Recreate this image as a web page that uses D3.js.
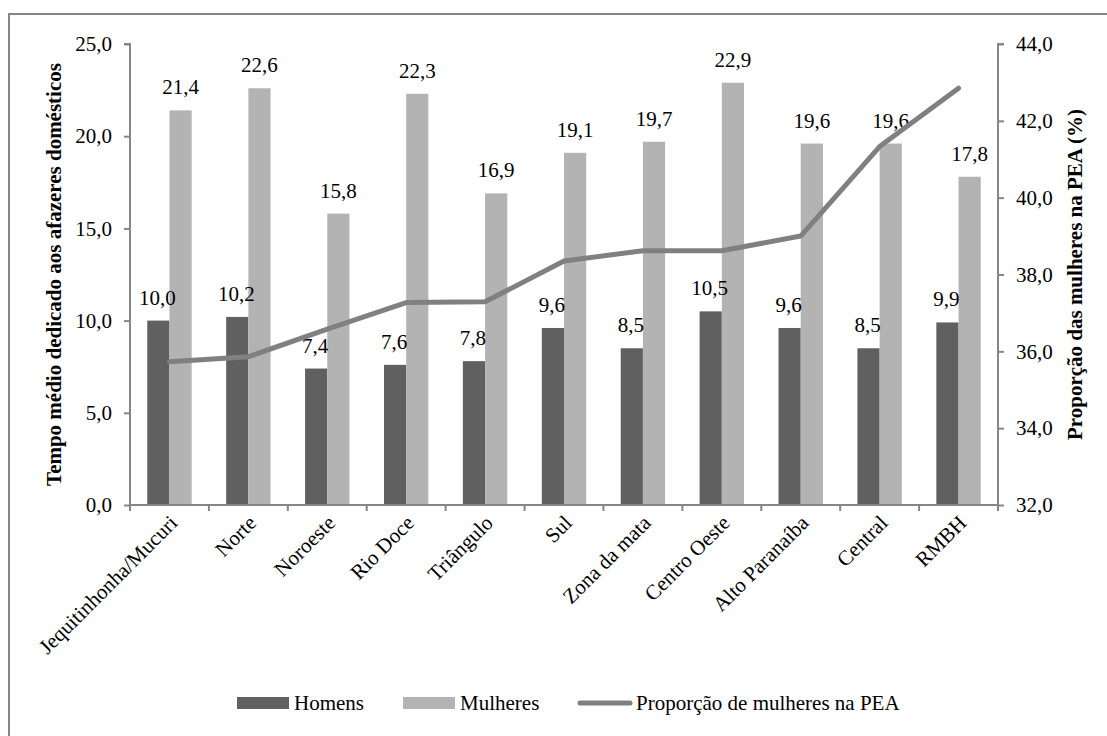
<!DOCTYPE html>
<html>
<head>
<meta charset="utf-8">
<script src="https://cdn.jsdelivr.net/npm/d3@7/dist/d3.min.js"></script>
</head>
<body style="margin:0;background:#fff">
<svg id="chart" width="1107" height="736" style="display:block"></svg>
<script>
// Regiões de Minas Gerais
const categories = ["Jequitinhonha/Mucuri", "Norte", "Noroeste", "Rio Doce", "Triângulo",
  "Sul", "Zona da mata", "Centro Oeste", "Alto Paranaíba", "Central", "RMBH"];
// Horas semanais dedicadas aos afazeres domésticos
const homens = [10.0, 10.2, 7.4, 7.6, 7.8, 9.6, 8.5, 10.5, 9.6, 8.5, 9.9];
const mulheres = [21.4, 22.6, 15.8, 22.3, 16.9, 19.1, 19.7, 22.9, 19.6, 19.6, 17.8];
// Proporção de mulheres na PEA (%)
const proporcao = [35.73, 35.86, 36.58, 37.27, 37.29, 38.35, 38.62, 38.62, 39.0, 41.33, 42.85];

const leftTicks = [0, 5, 10, 15, 20, 25];
const rightTicks = [32, 34, 36, 38, 40, 42, 44];
const seriesNames = ["Homens", "Mulheres", "Proporção de mulheres na PEA"];

const colDark = "#606060", colLight = "#b3b3b3", colLine = "#808080", colAxis = "#868686";
const FONT = "'Liberation Serif', 'Times New Roman', serif";
const FS = 21;
const fmt = v => d3.format(".1f")(v).replace(".", ",");

const svg = d3.select("#chart");
const plotLeft = 130, plotRight = 998, plotTop = 44, plotBottom = 505;

// Moldura do gráfico
svg.append("rect").attr("x", 9).attr("y", 14).attr("width", 1110).attr("height", 740)
  .attr("fill", "none").attr("stroke", colAxis).attr("stroke-width", 2);

const x = d3.scaleBand().domain(categories).range([plotLeft, plotRight]);
const inner = d3.scaleBand().domain(["h", "m"]).range([0, 44.4]);
const yL = d3.scaleLinear().domain([0, 25]).range([plotBottom, plotTop]);
const yR = d3.scaleLinear().domain([32, 44]).range([plotBottom, plotTop]);

const groupOffset = d => x(d) + x.bandwidth() / 2 - 22.2;

// Barras
const g = svg.append("g");
g.selectAll("rect.h").data(categories).join("rect")
  .attr("class", "h")
  .attr("x", (d) => groupOffset(d) + inner("h"))
  .attr("y", (d, i) => yL(homens[i]))
  .attr("width", inner.bandwidth())
  .attr("height", (d, i) => plotBottom - yL(homens[i]))
  .attr("fill", colDark);
g.selectAll("rect.m").data(categories).join("rect")
  .attr("class", "m")
  .attr("x", (d) => groupOffset(d) + inner("m"))
  .attr("y", (d, i) => yL(mulheres[i]))
  .attr("width", inner.bandwidth())
  .attr("height", (d, i) => plotBottom - yL(mulheres[i]))
  .attr("fill", colLight);

// Rótulos de valores
g.selectAll("text.h").data(categories).join("text")
  .attr("class", "h")
  .attr("x", d => groupOffset(d) + inner("h") + inner.bandwidth() / 2 - 1)
  .attr("y", (d, i) => yL(homens[i]) - 16)
  .attr("text-anchor", "middle")
  .text((d, i) => fmt(homens[i]));
g.selectAll("text.m").data(categories).join("text")
  .attr("class", "m")
  .attr("x", d => groupOffset(d) + inner("m") + inner.bandwidth() / 2)
  .attr("y", (d, i) => yL(mulheres[i]) - 16)
  .attr("text-anchor", "middle")
  .text((d, i) => fmt(mulheres[i]));

// Linha da proporção
const line = d3.line()
  .x(d => x(d.c) + x.bandwidth() / 2)
  .y(d => yR(d.v));
svg.append("path")
  .datum(categories.map((c, i) => ({ c, v: proporcao[i] })))
  .attr("d", line).attr("fill", "none").attr("stroke", colLine)
  .attr("stroke-width", 5).attr("stroke-linejoin", "round").attr("stroke-linecap", "round");

// Eixos
const axisL = svg.append("g").attr("transform", `translate(${plotLeft},0)`)
  .call(d3.axisLeft(yL).tickValues(leftTicks).tickFormat(fmt).tickSize(6).tickPadding(12));
const axisR = svg.append("g").attr("transform", `translate(${plotRight},0)`)
  .call(d3.axisRight(yR).tickValues(rightTicks).tickFormat(fmt).tickSize(6).tickPadding(12));
const axisB = svg.append("g").attr("transform", `translate(0,${plotBottom})`);
axisB.append("line").attr("x1", plotLeft).attr("x2", plotRight).attr("stroke", colAxis).attr("stroke-width", 2);
axisB.selectAll("line.tk").data(d3.range(categories.length + 1)).join("line")
  .attr("class", "tk")
  .attr("x1", i => plotLeft + i * x.step()).attr("x2", i => plotLeft + i * x.step())
  .attr("y1", 0).attr("y2", 6).attr("stroke", colAxis).attr("stroke-width", 2);

[axisL, axisR].forEach(a => {
  a.attr("font-family", FONT).attr("font-size", FS);
  a.select(".domain").attr("stroke", colAxis).attr("stroke-width", 2)
    .attr("d", a === axisL ? `M-6,${plotTop}H0V${plotBottom}` : `M6,${plotTop}H0V${plotBottom}`);
  a.selectAll(".tick line").attr("stroke", colAxis).attr("stroke-width", 2);
});

// Rótulos das categorias
axisB.selectAll("text.cat").data(categories).join("text")
  .attr("class", "cat")
  .attr("transform", d => `translate(${x(d) + x.bandwidth() / 2 + 4},${14}) rotate(-45)`)
  .attr("text-anchor", "end").attr("dy", "0.35em")
  .text(d => d);

// Títulos dos eixos
svg.append("text")
  .attr("transform", `translate(61,${(plotTop + plotBottom) / 2}) rotate(-90)`)
  .attr("text-anchor", "middle").attr("font-weight", "bold")
  .text("Tempo médio dedicado aos afazeres domésticos");
svg.append("text")
  .attr("transform", `translate(1082,${(plotTop + plotBottom) / 2}) rotate(-90)`)
  .attr("text-anchor", "middle").attr("font-weight", "bold")
  .text("Proporção das mulheres na PEA (%)");

// Legenda
const legend = svg.append("g").attr("transform", "translate(0,703)");
const legendX = [237, 403, 577];
legend.selectAll("rect").data([colDark, colLight]).join("rect")
  .attr("x", (d, i) => legendX[i]).attr("y", -6).attr("width", 52).attr("height", 12).attr("fill", d => d);
legend.append("line").attr("x1", legendX[2] + 3).attr("x2", legendX[2] + 53)
  .attr("y1", 0).attr("y2", 0).attr("stroke", colLine).attr("stroke-width", 5).attr("stroke-linecap", "round");
legend.selectAll("text").data(seriesNames).join("text")
  .attr("x", (d, i) => legendX[i] + (i === 2 ? 59 : 57)).attr("y", 0).attr("dy", "0.35em")
  .text(d => d);

// Tipografia comum a todos os textos
svg.selectAll("text")
  .attr("font-family", FONT)
  .attr("font-size", FS)
  .attr("fill", "#000");
</script>
</body>
</html>
